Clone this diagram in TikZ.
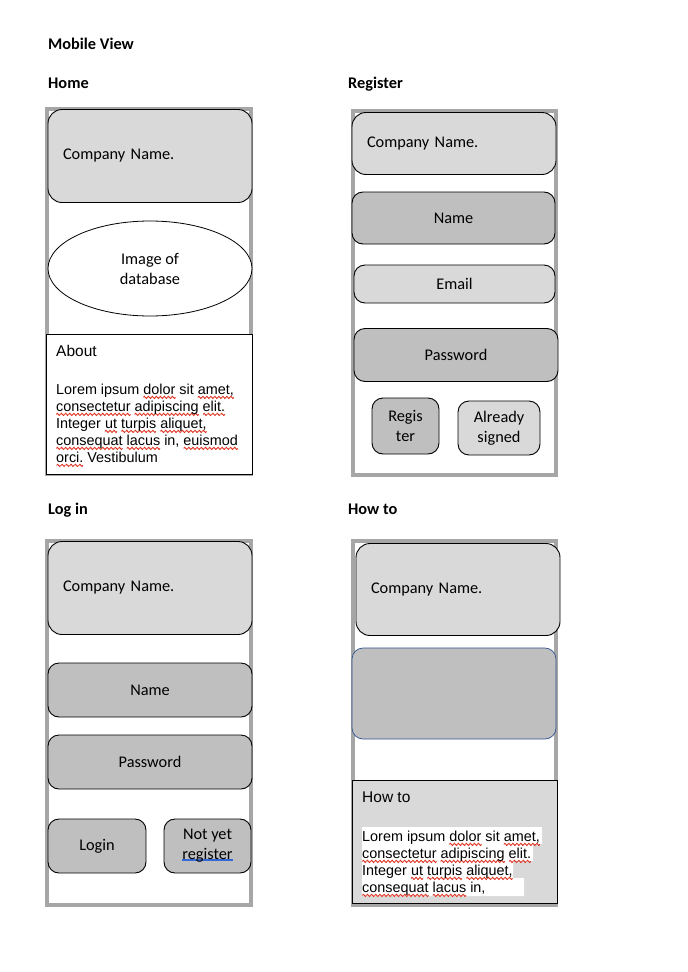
\documentclass[tikz,border=0pt]{standalone}
\usepackage{fontspec}
\setmainfont{Carlito}
\newfontfamily\arialfont{Liberation Sans}
\usetikzlibrary{shapes.geometric}

\definecolor{framegray}{HTML}{A6A6A6}
\definecolor{lightfill}{HTML}{D9D9D9}
\definecolor{darkfill}{HTML}{BFBFBF}
\definecolor{outlineblue}{HTML}{2F528F}
\definecolor{spellred}{HTML}{E0301E}
\definecolor{linkblue}{HTML}{3468D6}

\newcommand\mainsize{\fontsize{16.3}{20}\selectfont}
\newsavebox\wavebox
\newsavebox\wordbox
\newcommand\spellerr[1]{\sbox\wordbox{#1}\rlap{\raisebox{-4.2pt}{\hbox to \wd\wordbox{\xleaders\copy\wavebox\hfil}}}\usebox\wordbox}
\newcommand\linkline[1]{\sbox\wordbox{#1}\rlap{\textcolor{linkblue}{\rule[-1pt]{\wd\wordbox}{1.6pt}}}\usebox\wordbox}

\begin{document}
\sbox\wavebox{\begin{pgfpicture}
    \pgfpathrectangle{\pgfpoint{0pt}{-1.3pt}}{\pgfpoint{4pt}{2.6pt}}
    \pgfusepath{use as bounding box}
    \pgfsetlinewidth{0.9pt}
    \pgfsetstrokecolor{spellred}
    \pgfpathmoveto{\pgfpointorigin}
    \pgfpathsine{\pgfpoint{1pt}{1.1pt}}
    \pgfpathcosine{\pgfpoint{1pt}{-1.1pt}}
    \pgfpathsine{\pgfpoint{1pt}{-1.1pt}}
    \pgfpathcosine{\pgfpoint{1pt}{1.1pt}}
    \pgfusepath{stroke}
\end{pgfpicture}}
\begin{tikzpicture}[x=1pt,y=-1pt,
    phone/.style={draw=framegray,line width=4pt,fill=white,inner sep=0pt},
    box/.style={draw,line width=0.9pt,rounded corners=11pt,inner sep=0pt,align=center,font=\mainsize},
    light/.style={box,fill=lightfill},
    dark/.style={box,fill=darkfill},
    coname/.style={light,rounded corners=14pt,align=left,text width=174pt,inner xsep=15pt},
    heading/.style={font=\mainsize\bfseries,anchor=base west,inner sep=0pt},
    title/.style={font=\arialfont\fontsize{15.5}{18}\selectfont,anchor=base west,inner sep=0pt},
    lorem/.style={font=\arialfont\fontsize{14.4}{17}\selectfont,align=left,anchor=base west,inner sep=0pt}]

\useasboundingbox (0,0) rectangle (688,972);

\node[heading] (mobile) at (48,49) {Mobile View};
\node[heading] (home) at (48,88.5) {Home};
\node[heading] (register) at (348,88.5) {Register};
\node[heading] (login) at (48,514) {Log in};
\node[heading] (howto) at (348,514) {How to};

% Home
\node[phone,minimum width=204,minimum height=365] (hframe) at (149,291.5) {};
\node[coname,minimum height=93] (hco) at (150,156) {Company Name.};
\node[draw,ellipse,line width=0.8pt,fill=white,minimum width=204,minimum height=95,inner sep=0pt,align=center,font=\mainsize] (himg) at (150,268.5) {Image of\\database};
\node[draw,line width=0.9pt,fill=white,minimum width=206,minimum height=140,inner sep=0pt] (habout) at (149,404) {};
\node[title] (habouttitle) at (56,356) {About};
% base of a multi-line node = last line
\node[lorem] (habouttext) at (56,462.5) {Lorem ipsum \spellerr{dolor} sit \spellerr{amet,}\\
    \spellerr{consectetur} \spellerr{adipiscing} \spellerr{elit.}\\
    Integer \spellerr{ut} \spellerr{turpis} \spellerr{aliquet,}\\
    \spellerr{consequat} \spellerr{lacus} in, \spellerr{euismod}\\
    \spellerr{orci.} Vestibulum};

% Register
\node[phone,minimum width=203,minimum height=364] (rframe) at (454.5,293) {};
\node[coname,minimum height=62] (rco) at (454,143.5) {Company Name.};
\node[dark,minimum width=203,minimum height=52] (rname) at (453.5,218) {Name};
\node[light,minimum width=201,minimum height=38] (remail) at (454.5,284) {Email};
\node[dark,minimum width=204,minimum height=53] (rpass) at (456,355) {Password};
\node[dark,minimum width=67,minimum height=56] (rreg) at (405.5,426) {Regis\\ter};
\node[light,minimum width=82,minimum height=54] (rsigned) at (499,428) {Already\\signed};

% Log in
\node[phone,minimum width=204,minimum height=364] (lframe) at (149,723) {};
\node[coname,minimum height=93] (lco) at (150,588) {Company Name.};
\node[dark,minimum width=204,minimum height=54] (lname) at (150,690) {Name};
\node[dark,minimum width=204,minimum height=54] (lpass) at (150,762) {Password};
\node[dark,minimum width=98,minimum height=54] (lbtn) at (97,846) {Login};
\node[dark,minimum width=87,minimum height=54] (lnot) at (207.5,846) {Not yet\\\linkline{register}};

% How to
\node[phone,minimum width=203,minimum height=364] (tframe) at (454.5,723) {};
\node[coname,minimum height=92] (tco) at (458,589.5) {Company Name.};
\node[dark,draw=outlineblue,line width=0.7pt,minimum width=204,minimum height=91] (timg) at (454,693.5) {};
\node[draw,line width=0.9pt,fill=lightfill,minimum width=205,minimum height=123,inner sep=0pt] (thow) at (454.5,841.5) {};
\fill[white] (362,827) rectangle (542,844) (362,844) rectangle (533,861)
    (362,861) rectangle (513,878) (362,878) rectangle (524,896);
\node[title] (thowtitle) at (362,802) {How to};
\node[lorem] (thowtext) at (362,892.5) {Lorem ipsum \spellerr{dolor} sit \spellerr{amet,}\\
    \spellerr{consectetur} \spellerr{adipiscing} \spellerr{elit.}\\
    Integer \spellerr{ut} \spellerr{turpis} \spellerr{aliquet,}\\
    \spellerr{consequat} \spellerr{lacus} in,};

\end{tikzpicture}
\end{document}
